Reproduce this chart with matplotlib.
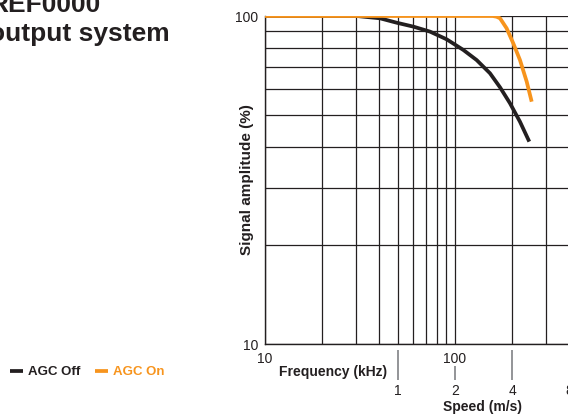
import matplotlib
matplotlib.use("Agg")
import matplotlib.pyplot as plt
from matplotlib.ticker import NullFormatter

plt.rcParams['font.family'] = ['Liberation Sans', 'DejaVu Sans']

# values (frequency in kHz, amplitude in %)
freq_off = [10, 20, 30.4, 40.3, 49.3, 60.4, 73.9, 90.4, 110.6, 130, 152.8, 172.6, 194.7, 219.8, 246]
amp_off = [100, 100, 100, 98.4, 95.4, 92.8, 89.6, 84.9, 78.8, 73.4, 66.9, 60.6, 54.2, 47.6, 41.4]

freq_on = [10, 50, 100, 145, 158, 165.6, 172.6, 187, 202.7, 219.8, 238.4, 253.3]
amp_on = [100, 100, 100, 100, 100, 99.5, 98.4, 91.7, 82.5, 73.4, 63.1, 54.8]

freq_ticks = [10, 100]
speed_major = [1, 4, 8]
speed_minor = [2]
kHz_per_mps = 50

dark = '#231f20'
orange = '#f7941d'

W, H = 568, 416
fig = plt.figure(figsize=(W / 100, H / 100), dpi=100)

# axes: x 10 -> 1000 spans 380 px, left edge at 265 px, y 16..344 px
ax = fig.add_axes([265 / W, (H - 344) / H, 380 / W, 328 / H])
ax.set_xscale('log')
ax.set_yscale('log')
ax.set_xlim(10, 1000)
ax.set_ylim(10, 100)

ax.plot(freq_off, amp_off, color=dark, lw=2.7, solid_capstyle='butt', label='AGC Off', zorder=3)
ax.plot(freq_on, amp_on, color=orange, lw=2.7, solid_capstyle='butt', label='AGC On', zorder=4)

ax.grid(True, which='both', color=dark, lw=0.9)
for s in ['top', 'right']:
    ax.spines[s].set_visible(False)
for s in ['left', 'bottom']:
    ax.spines[s].set_color(dark)
    ax.spines[s].set_linewidth(1.0)

ax.set_xticks(freq_ticks, labels=[str(v) for v in freq_ticks])
ax.set_yticks([10, 100], labels=['10', '100'])
ax.xaxis.set_minor_formatter(NullFormatter())
ax.yaxis.set_minor_formatter(NullFormatter())
ax.tick_params(which='both', length=0, labelsize=10, labelcolor=dark)
ax.tick_params(axis='x', pad=6)
ax.tick_params(axis='y', pad=5)

ax.set_xlabel('Frequency (kHz)', fontsize=10, fontweight='bold', color=dark)
ax.xaxis.set_label_coords(122 / 380, -28 / 328)
ax.xaxis.label.set_ha('right')
ax.xaxis.label.set_va('center')

ax.set_ylabel('Signal amplitude (%)', fontsize=11, fontweight='bold', color=dark)
ax.yaxis.set_label_coords(-18 / 380, 0.5)
ax.yaxis.label.set_va('center')

# speed axis below the frequency labels
sec = ax.secondary_xaxis(-36 / 328, functions=(lambda f: f / kHz_per_mps, lambda s: s * kHz_per_mps))
sec.spines['bottom'].set_visible(False)
sec.set_xticks(speed_major, labels=[str(v) for v in speed_major])
sec.set_xticks(speed_minor, labels=[str(v) for v in speed_minor], minor=True)
sec.tick_params(which='major', direction='in', length=21.6, width=1.2, color='#808285',
                labelsize=10, labelcolor=dark, pad=3)
sec.tick_params(which='minor', direction='in', length=10, width=1.2, color='#808285',
                labelsize=10, labelcolor=dark, pad=3)
sec.set_xlabel('Speed (m/s)', fontsize=10, fontweight='bold', color=dark)
sec.xaxis.set_label_coords(218 / 380, -63 / 328, transform=ax.transAxes)
sec.xaxis.label.set_va('center')

# title (cut off at the left edge in the reference)
fig.text(-11 / W, 1 - 12 / H, 'REF0000', fontsize=19, fontweight='bold', color=dark,
         ha='left', va='baseline')
fig.text(-11 / W, 1 - 41 / H, 'output system', fontsize=19, fontweight='bold', color=dark,
         ha='left', va='baseline')

fig.legend(loc='center left', bbox_to_anchor=(10 / W, 1 - 372 / H), ncol=2, frameon=False,
           handlelength=1.0, handletextpad=0.4, columnspacing=1.05, borderpad=0, borderaxespad=0,
           labelcolor='linecolor', prop={'weight': 'bold', 'size': 9.5})

fig.savefig('out.png', dpi=100)
